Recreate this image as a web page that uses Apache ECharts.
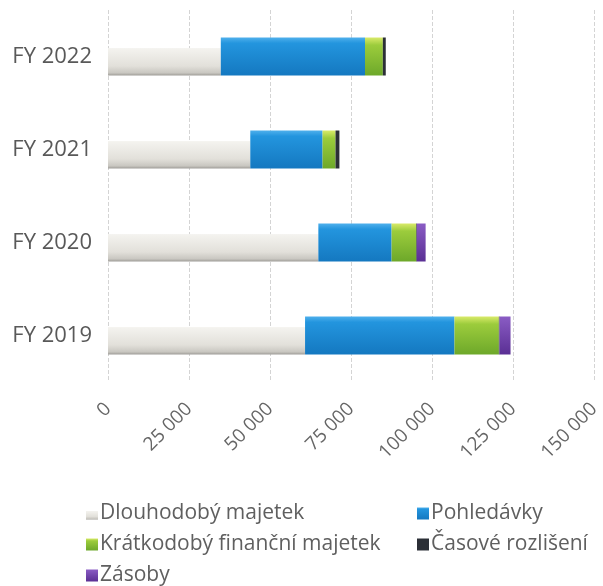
<!DOCTYPE html>
<html><head><meta charset="utf-8">
<script src="https://cdn.jsdelivr.net/npm/echarts@6/dist/echarts.min.js"></script>
<style>html,body{margin:0;padding:0;background:#fff}#c{width:603px;height:586px}</style>
</head><body><div id="c"></div>
<script>
const categories = ['FY 2019', 'FY 2020', 'FY 2021', 'FY 2022'];
const seriesNames = ['Dlouhodobý majetek', 'Pohledávky', 'Krátkodobý finanční majetek', 'Časové rozlišení', 'Zásoby'];
const dlouhodoby = [60800, 64900, 43900, 34800];
const pohledavky = [46100, 22600, 22300, 44500];
const kratkodoby = [13700, 7600, 4000, 5500];
const casove = [200, 200, 1200, 900];
const zasoby = [3400, 2700, 0, 0];
const xTicks = [0, 25000, 50000, 75000, 100000, 125000, 150000];

const FONT = '"Open Sans", sans-serif';
const values = [dlouhodoby, pohledavky, kratkodoby, casove, zasoby];
const grad = (stops) => ({type:'linear', x:0, y:0, x2:0, y2:1, colorStops: stops});
const styles = [
  grad([{offset:0,color:'rgba(255,255,255,0)'},{offset:0.28,color:'rgba(255,255,255,0)'},{offset:0.29,color:'#f4f3ef'},{offset:0.75,color:'#e2e0da'},{offset:0.93,color:'#c9c7c1'},{offset:1,color:'#9e9c97'}]),
  grad([{offset:0,color:'#4fb0ec'},{offset:0.15,color:'#2395de'},{offset:1,color:'#1478c0'}]),
  grad([{offset:0,color:'#d9ea6a'},{offset:0.2,color:'#9ccc3c'},{offset:1,color:'#6da82a'}]),
  '#2b2f36',
  grad([{offset:0,color:'#8a5cc4'},{offset:1,color:'#5a2f94'}])
];
const legendColors = ['#c9c7c1', '#1e88d0', '#7fbc34', '#2b2f36', '#6b3fa8'];

const series = seriesNames.map((n, i) => ({
  name: n, type: 'bar', stack: 'total', barWidth: 38,
  data: values[i],
  itemStyle: {color: styles[i]},
  emphasis: {disabled: true}
}));

const legendPos = [[86, 503], [417, 503], [86, 534], [417, 534], [86, 565]];
const legends = seriesNames.map((n, i) => ({
  data: [n], left: legendPos[i][0], top: legendPos[i][1],
  itemWidth: 12, itemHeight: 12, icon: 'rect', selectedMode: false, padding: 0,
  textStyle: {fontFamily: FONT, fontSize: 21, color: '#5f5f5f', padding: [0,0,0,-3]}
}));

const chart = echarts.init(document.getElementById('c'));
chart.setOption({
  animation: false,
  color: legendColors,
  grid: {left: 108, right: 3, top: 10, bottom: 204, containLabel: false},
  legend: legends,
  xAxis: {
    type: 'value', min: xTicks[0], max: xTicks[xTicks.length-1], interval: xTicks[1]-xTicks[0],
    axisLine: {show: false}, axisTick: {show: false},
    splitLine: {show: true, lineStyle: {color: '#d4d4d4', type: 'dashed', width: 1}},
    axisLabel: {
      rotate: 45, fontFamily: FONT, fontSize: 19, color: '#666', margin: 24,
      formatter: v => String(v).replace(/\B(?=(\d{3})+(?!\d))/g, ' ')
    }
  },
  yAxis: {
    type: 'category', data: categories,
    axisLine: {show: false}, axisTick: {show: false},
    axisLabel: {fontFamily: FONT, fontSize: 22, color: '#595959', margin: 16}
  },
  series: series
});
</script></body></html>
